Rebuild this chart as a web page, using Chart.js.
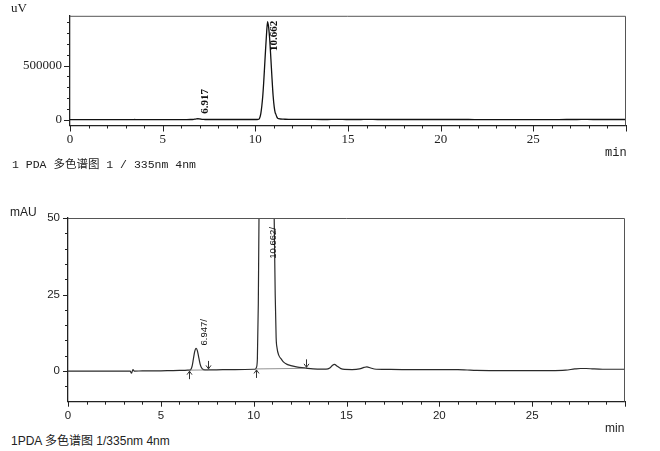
<!DOCTYPE html>
<html>
<head>
<meta charset="utf-8">
<script src="https://cdn.jsdelivr.net/npm/chart.js@4.4.1/dist/chart.umd.min.js"></script>
<style>
  body { margin: 0; width: 660px; height: 451px; position: relative; background: #fff; overflow: hidden; }
  .box { position: absolute; left: 0; width: 660px; }
  .txt { position: absolute; white-space: nowrap; color: #222; line-height: 1; }
  .serif { font-family: "Liberation Serif", "Noto Sans CJK SC", serif; }
  .mono { font-family: "Liberation Mono", "Noto Sans CJK SC", monospace; }
  .sans { font-family: "Liberation Sans", "Noto Sans CJK SC", sans-serif; }
</style>
</head>
<body>
<div class="box" style="top:0;height:160px"><canvas id="topChart" width="660" height="160"></canvas></div>
<div class="box" style="top:200px;height:225px"><canvas id="bottomChart" width="660" height="225"></canvas></div>

<div class="txt serif" style="left:11px;top:1px;font-size:13px">uV</div>
<div class="txt mono" style="left:605px;top:147px;font-size:12px">min</div>
<div class="txt mono" style="left:12px;top:159px;font-size:11.5px">1 PDA 多色谱图 1 / 335nm 4nm</div>

<div class="txt sans" style="left:10px;top:206px;font-size:12px">mAU</div>
<div class="txt sans" style="left:605px;top:422px;font-size:12px">min</div>
<div class="txt sans" style="left:11px;top:435px;font-size:12px">1PDA 多色谱图 1/335nm 4nm</div>

<script>
const retentionTimes = [
  0, 1, 2, 3, 3.35, 3.42, 3.5, 3.56, 4, 5, 5.5, 6, 6.3, 6.5,
  6.6, 6.68, 6.75, 6.82, 6.9, 6.97, 7.05, 7.12, 7.2, 7.3, 7.5, 8, 9, 10,
  10.1, 10.15, 10.2, 10.25, 10.3, 10.35, 10.4, 10.45, 10.5, 10.55, 10.6, 10.66,
  10.72, 10.78, 10.84, 10.9, 10.96, 11.02, 11.07, 11.11, 11.16, 11.21, 11.26,
  11.35, 11.5, 11.6, 11.8, 12.0, 12.3, 12.6, 12.9, 13.2, 13.6, 13.9,
  14.1, 14.25, 14.35, 14.5, 14.7, 14.9, 15.3, 15.7, 15.95, 16.1, 16.3, 16.6,
  17, 18, 19, 20, 21, 21.5, 22, 23, 24, 25, 26, 26.8, 27.3, 27.6, 27.9, 28.3,
  28.8, 29.5, 30
];
const signalMau = [
  0, 0, 0, 0, 0, -0.7, 0.5, 0, 0.05, 0.1, 0.15, 0.2, 0.25, 0.3,
  0.4, 1.5, 3.8, 6.3, 7.4, 6.6, 4.2, 2.2, 1.0, 0.5, 0.38, 0.42, 0.5, 0.6,
  0.7, 1.2, 4, 22, 60, 125, 215, 340, 490, 640, 780, 905,
  850, 730, 560, 380, 220, 115, 65, 48, 25, 11, 7.5,
  5.2, 3.8, 3.0, 2.2, 1.8, 1.4, 1.1, 0.9, 0.75, 0.65, 0.65,
  1.0, 1.9, 2.2, 1.6, 0.8, 0.55, 0.5, 0.7, 1.2, 1.4, 1.0, 0.6,
  0.55, 0.5, 0.5, 0.5, 0.5, 0.35, 0.2, 0.15, 0.15, 0.15, 0.15, 0.3, 0.7, 0.85, 0.85, 0.7,
  0.6, 0.6, 0.6
];
const uvPerMau = 1000;

// peak annotations
const topPeakTimes = [6.917, 10.662];
const topPeakLabels = ["6.917", "10.662"];
const bottomPeakTimes = [6.947, 10.662];
const bottomPeakLabels = ["6.947/", "10.662/"];

// integration marks (start arrows up, end arrows down)
const integStartTimes = [6.5, 10.1];
const integStartLevels = [0.3, 0.7];
const integEndTimes = [7.55, 12.8];
const integEndLevels = [0.38, 0.9];

// axes
const xTicks = [0,1,2,3,4,5,6,7,8,9,10,11,12,13,14,15,16,17,18,19,20,21,22,23,24,25,26,27,28,29,30];
const xTickLabels = [0, 5, 10, 15, 20, 25];
const topYTicks = [0,100000,200000,300000,400000,500000,600000,700000,800000,900000];
const topYTickLabels = [0, 500000];
const bottomYTicks = [-5,0,5,10,15,20,25,30,35,40,45,50];
const bottomYTickLabels = [0, 25, 50];

function series(factor) {
  return retentionTimes.map((t, i) => ({ x: t, y: signalMau[i] * factor }));
}

function apexValue(chart, t) {
  const d = chart.data.datasets[0].data;
  let best = -Infinity;
  d.forEach(p => { if (Math.abs(p.x - t) < 0.15 && p.y > best) best = p.y; });
  return best;
}

const chromPlugin = {
  id: "chrom",
  afterDatasetsDraw(chart, args, o) {
    const ctx = chart.ctx, a = chart.chartArea;
    const xs = chart.scales.x, ys = chart.scales.y;
    ctx.save();
    // frame top and right
    ctx.strokeStyle = "#555";
    ctx.lineWidth = 1;
    ctx.beginPath();
    ctx.moveTo(a.left, a.top + 0.5);
    ctx.lineTo(a.right - 0.5, a.top + 0.5);
    ctx.lineTo(a.right - 0.5, a.bottom);
    ctx.stroke();

    // ticks
    ctx.strokeStyle = "#222";
    ctx.beginPath();
    xTicks.forEach(v => {
      const px = Math.round(xs.getPixelForValue(v)) + 0.5;
      const len = xTickLabels.includes(v) || v === 30 ? o.majorLen : o.minorLen;
      ctx.moveTo(px, a.bottom);
      ctx.lineTo(px, a.bottom + len);
    });
    o.yTicks.forEach(v => {
      const py = Math.round(ys.getPixelForValue(v)) + 0.5;
      const len = o.yLabels.includes(v) ? o.majorLen : o.minorLen;
      ctx.moveTo(a.left, py);
      ctx.lineTo(a.left - len, py);
    });
    ctx.stroke();

    // peak labels
    ctx.fillStyle = "#111";
    ctx.font = o.labelFont;
    o.peakTimes.forEach((t, i) => {
      const txt = o.peakLabels[i];
      const w = ctx.measureText(txt).width;
      const apex = apexValue(chart, t);
      let start = Math.min(ys.getPixelForValue(apex), a.bottom) - o.gap;
      if (start - w < a.top + o.topGap) start = a.top + o.topGap + w;
      ctx.save();
      ctx.translate(xs.getPixelForValue(t) + o.labelDx, start);
      ctx.rotate(-Math.PI / 2);
      ctx.textAlign = "left";
      ctx.textBaseline = "middle";
      ctx.fillText(txt, 0, 0);
      ctx.restore();
    });

    // integration baselines and arrows
    if (o.marks) {
      ctx.strokeStyle = "#777";
      ctx.lineWidth = 0.8;
      integStartTimes.forEach((t, i) => {
        ctx.beginPath();
        ctx.moveTo(xs.getPixelForValue(t), ys.getPixelForValue(integStartLevels[i]));
        ctx.lineTo(xs.getPixelForValue(integEndTimes[i]), ys.getPixelForValue(integEndLevels[i]));
        ctx.stroke();
      });
      ctx.strokeStyle = "#333";
      ctx.lineWidth = 1;
      // up arrow sits below the trace, pointing at it
      integStartTimes.forEach((t, i) => {
        const px = Math.round(xs.getPixelForValue(t)) + 0.5;
        const tip = ys.getPixelForValue(integStartLevels[i]) + 1;
        ctx.beginPath();
        ctx.moveTo(px, tip + 8);
        ctx.lineTo(px, tip);
        ctx.moveTo(px - 2.5, tip + 3.5);
        ctx.lineTo(px, tip);
        ctx.lineTo(px + 2.5, tip + 3.5);
        ctx.stroke();
      });
      // down arrow sits above the trace
      integEndTimes.forEach((t, i) => {
        const px = Math.round(xs.getPixelForValue(t)) + 0.5;
        const tip = ys.getPixelForValue(integEndLevels[i]) - 1;
        ctx.beginPath();
        ctx.moveTo(px, tip - 8);
        ctx.lineTo(px, tip);
        ctx.moveTo(px - 2.5, tip - 3.5);
        ctx.lineTo(px, tip);
        ctx.lineTo(px + 2.5, tip - 3.5);
        ctx.stroke();
      });
    }
    ctx.restore();
  }
};

function makeChart(id, cfg) {
  return new Chart(document.getElementById(id), {
    type: "line",
    data: {
      datasets: [{
        data: cfg.data,
        borderColor: cfg.lineColor,
        borderWidth: cfg.lineWidth,
        pointRadius: 0,
        cubicInterpolationMode: "monotone",
        fill: false
      }]
    },
    options: {
      responsive: false,
      animation: false,
      devicePixelRatio: 1,
      layout: { padding: cfg.padding },
      plugins: {
        legend: { display: false },
        tooltip: { enabled: false },
        chrom: cfg.plugin
      },
      scales: {
        x: {
          type: "linear",
          min: 0,
          max: 30,
          afterBuildTicks: s => { s.ticks = xTicks.map(v => ({ value: v })); },
          afterFit: s => { s.height = cfg.xHeight; },
          ticks: {
            autoSkip: false,
            maxRotation: 0,
            padding: cfg.xPad,
            color: "#222",
            font: cfg.tickFont,
            callback: v => (xTickLabels.includes(v) ? String(v) : "")
          },
          grid: { display: true, drawOnChartArea: false, drawTicks: false },
          border: { display: true, color: "#222", width: 1.3 }
        },
        y: {
          type: "linear",
          min: cfg.yMin,
          max: cfg.yMax,
          afterBuildTicks: s => { s.ticks = cfg.yTicks.map(v => ({ value: v })); },
          afterFit: s => { s.width = cfg.yWidth; },
          ticks: {
            autoSkip: false,
            padding: cfg.yPad,
            color: "#222",
            font: cfg.tickFont,
            callback: v => (cfg.yLabels.includes(v) ? String(v) : "")
          },
          grid: { display: true, drawOnChartArea: false, drawTicks: false },
          border: { display: true, color: "#222", width: 1.3 }
        }
      }
    },
    plugins: [chromPlugin]
  });
}

makeChart("topChart", {
  data: series(uvPerMau),
  lineColor: "#111",
  lineWidth: 1.3,
  padding: { top: 13, right: 34, left: 0, bottom: 0 },
  xHeight: 34.5,
  yWidth: 70,
  xPad: 6,
  yPad: 8,
  yMin: -55000,
  yMax: 960000,
  yTicks: topYTicks,
  yLabels: topYTickLabels,
  tickFont: { family: "Liberation Serif", size: 13 },
  plugin: {
    yTicks: topYTicks, yLabels: topYTickLabels,
    majorLen: 6, minorLen: 3,
    peakTimes: topPeakTimes, peakLabels: topPeakLabels,
    labelFont: "bold 11px 'Liberation Serif'",
    labelDx: 7, gap: 5, topGap: 5, marks: false
  }
});

makeChart("bottomChart", {
  data: series(1),
  lineColor: "#2a2a2a",
  lineWidth: 1.2,
  padding: { top: 18, right: 35, left: 0, bottom: 0 },
  xHeight: 23.3,
  yWidth: 68,
  xPad: 7,
  yPad: 8,
  yMin: -10,
  yMax: 50,
  yTicks: bottomYTicks,
  yLabels: bottomYTickLabels,
  tickFont: { family: "Liberation Sans", size: 11.5 },
  plugin: {
    yTicks: bottomYTicks, yLabels: bottomYTickLabels,
    majorLen: 5, minorLen: 3,
    peakTimes: bottomPeakTimes, peakLabels: bottomPeakLabels,
    labelFont: "9.5px 'Liberation Sans'",
    labelDx: 7, gap: 3, topGap: 9, marks: true
  }
});
</script>
</body>
</html>
